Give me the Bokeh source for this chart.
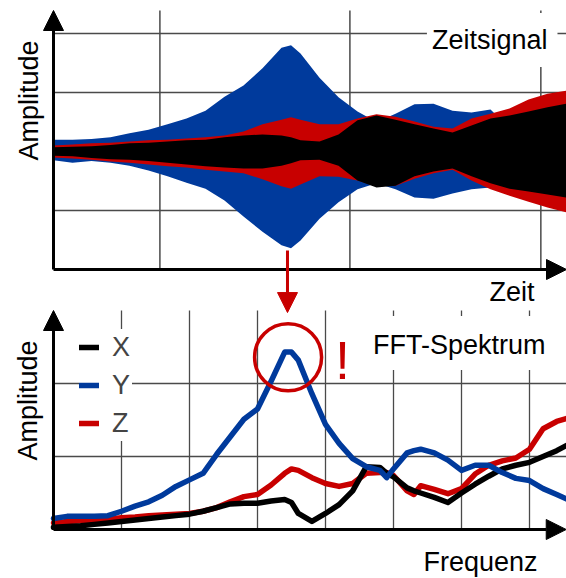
import numpy as np
from bokeh.plotting import figure
from bokeh.models import Range1d, Label, Legend, LegendItem, Arrow, NormalHead
from bokeh.embed import file_html
from bokeh.resources import INLINE

# ---------------- data ----------------
# time signal (envelopes, amplitude units)
zeit = [0.0, 0.2, 0.4, 0.6, 0.8, 1.0, 1.2, 1.4, 1.6, 1.8, 2.0, 2.2, 2.4, 2.5, 2.6,
        2.8, 3.0, 3.2, 3.4, 3.6, 3.8, 4.0, 4.2, 4.4, 4.6, 4.8, 5.0, 5.2, 5.4]
y_oben = [0.20, 0.20, 0.21, 0.24, 0.31, 0.37, 0.46, 0.56, 0.69, 0.93, 1.12, 1.41, 1.76, 1.80, 1.66,
          1.25, 0.92, 0.68, 0.50, 0.64, 0.80, 0.81, 0.69, 0.66, 0.71, 0.40, 0.40, 0.40, 0.40]
y_unten = [-0.15, -0.19, -0.16, -0.19, -0.24, -0.32, -0.42, -0.53, -0.63, -0.83, -1.10, -1.36, -1.59, -1.64, -1.51,
           -1.14, -0.86, -0.64, -0.54, -0.64, -0.78, -0.80, -0.71, -0.64, -0.61, -0.49, -0.49, -0.49, -0.49]
z_oben = [0.10, 0.12, 0.14, 0.15, 0.17, 0.19, 0.20, 0.22, 0.24, 0.27, 0.34, 0.46, 0.54, 0.58, 0.54,
          0.46, 0.46, 0.56, 0.63, 0.59, 0.51, 0.42, 0.39, 0.56, 0.64, 0.73, 0.88, 0.98, 1.03]
z_unten = [-0.10, -0.12, -0.14, -0.17, -0.19, -0.22, -0.25, -0.27, -0.31, -0.34, -0.37, -0.47, -0.59, -0.63, -0.56,
           -0.42, -0.43, -0.49, -0.59, -0.58, -0.46, -0.37, -0.31, -0.49, -0.64, -0.75, -0.85, -0.95, -1.03]
x_oben = [0.07, 0.08, 0.09, 0.11, 0.14, 0.15, 0.17, 0.19, 0.20, 0.24, 0.27, 0.29, 0.27, 0.24, 0.19,
          0.17, 0.29, 0.53, 0.61, 0.54, 0.46, 0.39, 0.32, 0.44, 0.56, 0.61, 0.68, 0.75, 0.81]
x_unten = [-0.07, -0.08, -0.11, -0.13, -0.14, -0.16, -0.19, -0.22, -0.25, -0.27, -0.29, -0.29, -0.24, -0.20, -0.15,
           -0.14, -0.24, -0.49, -0.61, -0.58, -0.42, -0.34, -0.29, -0.42, -0.54, -0.63, -0.68, -0.73, -0.78]

# FFT spectrum
frequenz = [0, 0.2, 0.4, 0.6, 0.8, 1.0, 1.2, 1.4, 1.6, 1.8, 2.0, 2.2, 2.4, 2.6, 2.8, 3.0, 3.2, 3.4, 3.5,
            3.6, 3.8, 4.0, 4.2, 4.4, 4.6, 4.8, 4.9, 5.0, 5.2, 5.3, 5.4, 5.6, 5.8, 6.0, 6.2, 6.4, 6.6,
            6.8, 7.0, 7.2, 7.4, 7.54]
spek_x = [0.03, 0.04, 0.05, 0.07, 0.09, 0.11, 0.13, 0.15, 0.17, 0.19, 0.21, 0.25, 0.30, 0.35, 0.36, 0.36, 0.39, 0.41, 0.37,
          0.22, 0.11, 0.22, 0.34, 0.53, 0.86, 0.85, 0.77, 0.72, 0.57, 0.53, 0.50, 0.44, 0.37, 0.50, 0.62, 0.73, 0.83,
          0.88, 0.92, 1.00, 1.08, 1.15]
spek_y = [0.15, 0.18, 0.18, 0.18, 0.19, 0.25, 0.32, 0.38, 0.47, 0.59, 0.68, 0.77, 1.03, 1.27, 1.51, 1.65, 2.03, 2.43, 2.43,
          2.32, 1.86, 1.44, 1.18, 0.97, 0.86, 0.81, 0.71, 0.83, 1.05, 1.08, 1.10, 1.05, 0.95, 0.81, 0.88, 0.88, 0.78,
          0.70, 0.67, 0.56, 0.48, 0.42]
spek_z = [0.09, 0.11, 0.12, 0.13, 0.14, 0.16, 0.17, 0.19, 0.20, 0.21, 0.22, 0.25, 0.30, 0.38, 0.45, 0.48, 0.61, 0.77, 0.83,
          0.81, 0.71, 0.63, 0.59, 0.63, 0.77, 0.78, 0.78, 0.74, 0.53, 0.48, 0.60, 0.55, 0.49, 0.56, 0.76, 0.88, 0.94,
          0.98, 1.10, 1.38, 1.48, 1.52]

legend_labels = ["X", "Y", "Z"]

# grid positions (tick values)
zeit_grid = [1.12, 3.12, 5.13]
amp_grid = [2, 1, 0, -1]
freq_grid = [1, 2, 3, 4, 5, 6, 7]
spek_grid = [1, 2]

# axis extents
zeit_max, amp_min, amp_max = 5.4, -2.0, 2.39
freq_max, spek_max = 7.54, 3.0

# highlighted peak / arrow
peak_f, peak_s = 3.45, 2.36
pfeil_t, pfeil_a0, pfeil_a1 = 2.463, -1.68, -2.73

# ---------------- layout ----------------
W, H = 566, 578
ORIGIN_X = 53      # canvas x of the two vertical axes
T_PX, F_PX = 95, 68
A0_Y, A_PX = 151, 59
S0_Y, S_PX = 529, 73

BLUE = "#003a9c"
RED = "#c80000"
BLACK = "#000000"
GRID = "#4a4a4a"
FONT = "Liberation Sans"
FS = "27px"

p = figure(width=W, height=H, output_backend="svg", toolbar_location=None,
           x_axis_location=None, y_axis_location=None, min_border=0,
           x_range=Range1d(-ORIGIN_X / T_PX, (W - ORIGIN_X) / T_PX),
           y_range=Range1d((A0_Y - H) / A_PX, A0_Y / A_PX))
p.extra_x_ranges = {"freq": Range1d(-ORIGIN_X / F_PX, (W - ORIGIN_X) / F_PX)}
p.extra_y_ranges = {"spec": Range1d((S0_Y - H) / S_PX, S0_Y / S_PX)}
p.outline_line_color = None
p.background_fill_color = "white"
p.border_fill_color = "white"
p.xgrid.visible = False
p.ygrid.visible = False

# --- top panel grid ---
n = len(zeit_grid)
p.segment(x0=zeit_grid, y0=[amp_min] * n, x1=zeit_grid, y1=[amp_max] * n,
          line_color=GRID, line_width=1.5)
n = len(amp_grid)
p.segment(x0=[0] * n, y0=amp_grid, x1=[zeit_max] * n, y1=amp_grid,
          line_color=GRID, line_width=1.5)

# --- bottom panel grid ---
n = len(freq_grid)
p.segment(x0=freq_grid, y0=[0] * n, x1=freq_grid, y1=[spek_max] * n,
          line_color=GRID, line_width=1.3, x_range_name="freq", y_range_name="spec")
n = len(spek_grid)
p.segment(x0=[0] * n, y0=spek_grid, x1=[freq_max] * n, y1=spek_grid,
          line_color=GRID, line_width=1.3, x_range_name="freq", y_range_name="spec")

# --- time signal envelopes ---
p.varea(x=zeit, y1=y_unten, y2=y_oben, fill_color=BLUE)
p.varea(x=zeit, y1=z_unten, y2=z_oben, fill_color=RED)
p.varea(x=zeit, y1=x_unten, y2=x_oben, fill_color=BLACK)

# --- spectrum lines ---
kw = dict(line_width=5.5, line_join="round", line_cap="round",
          x_range_name="freq", y_range_name="spec")
rz = p.line(frequenz, spek_z, line_color=RED, **kw)
rx = p.line(frequenz, spek_x, line_color=BLACK, **kw)
ry = p.line(frequenz, spek_y, line_color=BLUE, **kw)

# --- axes with arrow heads ---
def head(c, s=20):
    return NormalHead(size=s, fill_color=c, line_color=c, line_width=1)

p.add_layout(Arrow(end=head(BLACK), x_start=0, y_start=amp_min, x_end=0, y_end=amp_max,
                   line_width=3, line_color=BLACK))
p.add_layout(Arrow(end=head(BLACK), x_start=0, y_start=amp_min, x_end=zeit_max, y_end=amp_min,
                   line_width=3, line_color=BLACK))
p.add_layout(Arrow(end=head(BLACK), x_start=0, y_start=0, x_end=0, y_end=spek_max,
                   line_width=3, line_color=BLACK, x_range_name="freq", y_range_name="spec"))
p.add_layout(Arrow(end=head(BLACK), x_start=0, y_start=0, x_end=freq_max, y_end=0,
                   line_width=3, line_color=BLACK, x_range_name="freq", y_range_name="spec"))

# --- red arrow + circle + ! ---
p.add_layout(Arrow(end=head(RED, 20), x_start=pfeil_t, y_start=pfeil_a0, x_end=pfeil_t, y_end=pfeil_a1,
                   line_width=3, line_color=RED))
p.scatter(x=[peak_f], y=[peak_s], marker="circle", size=67, fill_color=None,
          line_color=RED, line_width=3.5, x_range_name="freq", y_range_name="spec")

# --- texts ---
def lab(text, x, y, align="left", angle=0, color="black", size=FS,
        bg=None, pad=0, spec=False):
    kwargs = dict(x=x, y=y, text=text, text_font=FONT, text_font_size=size, text_color=color,
                  text_align=align, text_baseline="middle", angle=angle)
    if spec:
        kwargs.update(x_range_name="freq", y_range_name="spec")
    if bg:
        kwargs.update(background_fill_color=bg, padding=pad)
    p.add_layout(Label(**kwargs))

lab("Amplitude", -0.263, 0.864, align="center", angle=np.pi / 2)
lab("Zeit", 5.063, -2.381, align="right")
lab("Zeitsignal", 5.305, 1.89, align="right", bg="white",
    pad=dict(left=5, right=10, top=12, bottom=12))
lab("Amplitude", -0.382, 1.767, align="center", angle=np.pi / 2, spec=True)
lab("Frequenz", 7.118, -0.452, align="right", spec=True)
lab("FFT-Spektrum", 7.382, 2.555, align="right", bg="white",
    pad=dict(left=5, right=10, top=14, bottom=10), spec=True)
lab("!", 4.25, 2.322, align="center", color=RED, size="54px", spec=True)

# --- legend ---
legend = Legend(items=[LegendItem(label=l, renderers=[r]) for l, r in zip(legend_labels, [rx, ry, rz])],
                location=(79, 137), padding=8, margin=0, spacing=2,
                glyph_width=20, glyph_height=36, label_height=36, label_standoff=13,
                label_text_font=FONT, label_text_font_size=FS,
                background_fill_color="white", background_fill_alpha=1.0,
                border_line_color=None)
p.add_layout(legend)

open("out.html", "w").write(file_html(p, INLINE))
